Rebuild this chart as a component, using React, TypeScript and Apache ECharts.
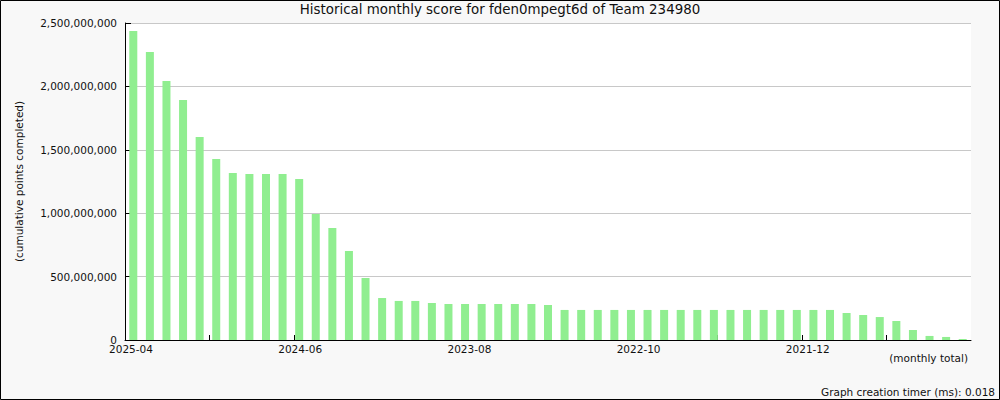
import React, { useEffect, useRef } from "react";
import * as echarts from "echarts";

const TITLE = "Historical monthly score for fden0mpegt6d of Team 234980";
const Y_NAME = "(cumulative points completed)";
const X_NAME = "(monthly total)";
const FOOTER = "Graph creation timer (ms): 0.018";

const months = [
  "2025-04", "2025-03", "2025-02", "2025-01", "2024-12", "2024-11", "2024-10", "2024-09", "2024-08", "2024-07",
  "2024-06", "2024-05", "2024-04", "2024-03", "2024-02", "2024-01", "2023-12", "2023-11", "2023-10", "2023-09",
  "2023-08", "2023-07", "2023-06", "2023-05", "2023-04", "2023-03", "2023-02", "2023-01", "2022-12", "2022-11",
  "2022-10", "2022-09", "2022-08", "2022-07", "2022-06", "2022-05", "2022-04", "2022-03", "2022-02", "2022-01",
  "2021-12", "2021-11", "2021-10", "2021-09", "2021-08", "2021-07", "2021-06", "2021-05", "2021-04", "2021-03",
  "2021-02",
];

const scores = [
  2437e6, 2271e6, 2042e6, 1893e6, 1601e6, 1427e6, 1317e6, 1309e6, 1309e6, 1309e6,
  1270e6, 994e6, 883e6, 702e6, 489e6, 331e6, 308e6, 308e6, 292e6, 284e6,
  284e6, 284e6, 284e6, 284e6, 284e6, 276e6, 237e6, 237e6, 237e6, 237e6,
  237e6, 237e6, 237e6, 237e6, 237e6, 237e6, 237e6, 237e6, 237e6, 237e6,
  237e6, 237e6, 237e6, 213e6, 197e6, 181e6, 150e6, 79e6, 32e6, 24e6,
  8e6,
];

// labels shown under the evenly spaced tick marks (10 divisions across the axis)
const tickLabels = ["2025-04", "2024-06", "2023-08", "2022-10", "2021-12"];
const tickPositions = [0, 1, 2, 3, 4, 5, 6, 7, 8, 9];
const labelPositions = [0, 2, 4, 6, 8];

const FONT = "DejaVu Sans";

export default function App() {
  const ref = useRef<HTMLDivElement>(null);

  useEffect(() => {
    document.body.style.margin = "0";
    if (!ref.current) return;
    const chart = echarts.init(ref.current, null, { renderer: "svg" });
    chart.setOption({
      animation: false,
      backgroundColor: "#f8f8f8",
      textStyle: { fontFamily: FONT },
      grid: {
        left: 125,
        right: 29,
        top: 23,
        bottom: 60,
        show: true,
        backgroundColor: "#ffffff",
        borderWidth: 0,
        containLabel: false,
      },
      xAxis: [
        {
          type: "category",
          position: "bottom",
          data: months,
          boundaryGap: true,
          axisLine: { show: false },
          axisTick: { show: false },
          axisLabel: { show: false },
          splitLine: { show: false },
        },
        {
          type: "value",
          position: "bottom",
          min: 0,
          max: 10,
          interval: 1,
          axisLine: { show: true, onZero: false, lineStyle: { color: "#000", width: 1 } },
          axisTick: {
            show: true,
            inside: true,
            length: 5,
            customValues: tickPositions,
            lineStyle: { color: "#000", width: 1 },
          },
          axisLabel: {
            show: true,
            customValues: labelPositions,
            margin: 4,
            lineHeight: 10,
            padding: [0, 0, 0, 12],
            color: "#111",
            fontFamily: FONT,
            fontSize: 10.5,
            formatter: (v: number) => {
              const i = Math.round(v) / 2;
              return Number.isInteger(i) && tickLabels[i] ? tickLabels[i] : "";
            },
          },
          splitLine: { show: false },
        },
      ],
      yAxis: {
        type: "value",
        min: 0,
        max: 2500000000,
        interval: 500000000,
        name: Y_NAME,
        nameLocation: "middle",
        nameGap: 101,
        nameRotate: 90,
        nameTextStyle: { color: "#111", fontFamily: FONT, fontSize: 10.5 },
        axisLine: { show: true, lineStyle: { color: "#000", width: 1 } },
        axisTick: { show: true, inside: true, length: 6, lineStyle: { color: "#000", width: 1 } },
        axisLabel: {
          margin: 8,
          lineHeight: 7,
          color: "#111",
          fontFamily: FONT,
          fontSize: 10.5,
          formatter: (v: number) => v.toLocaleString("en-US"),
        },
        splitLine: { show: true, lineStyle: { color: "#c8c8c8", width: 1 } },
      },
      series: [
        {
          type: "bar",
          xAxisIndex: 0,
          yAxisIndex: 0,
          data: scores,
          barWidth: 8,
          itemStyle: { color: "#90ee90" },
        },
      ],
      graphic: [
        {
          type: "text",
          left: "center",
          top: 3,
          style: { text: TITLE, fill: "#111", font: `13.4px "${FONT}"` },
        },
        {
          type: "text",
          x: 968,
          y: 358,
          style: {
            text: X_NAME,
            fill: "#111",
            font: `10.5px "${FONT}"`,
            textAlign: "right",
            textVerticalAlign: "middle",
          },
        },
        {
          type: "text",
          x: 995,
          y: 392,
          style: {
            text: FOOTER,
            fill: "#111",
            font: `10.5px "${FONT}"`,
            textAlign: "right",
            textVerticalAlign: "middle",
          },
        },
        {
          type: "rect",
          shape: { x: 0.5, y: 0.5, width: 999, height: 399 },
          style: { fill: "none", stroke: "#000", lineWidth: 1 },
          silent: true,
          z: 100,
        },
      ],
    });
    return () => chart.dispose();
  }, []);

  return <div ref={ref} style={{ width: 1000, height: 400 }} />;
}
